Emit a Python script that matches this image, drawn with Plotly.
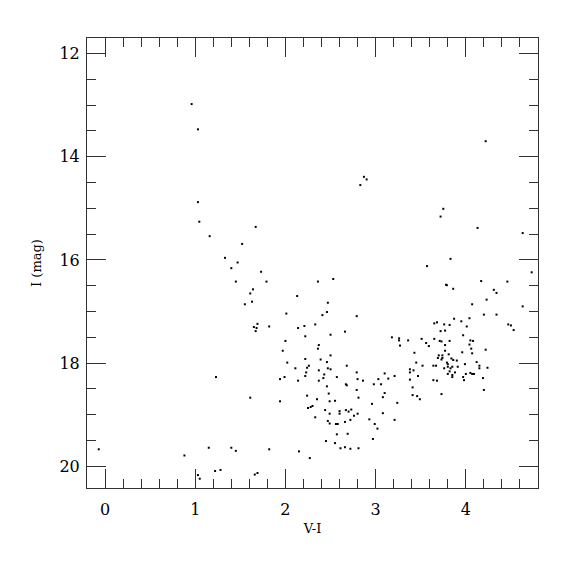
import plotly.graph_objects as go

# Colour index V-I and I magnitude
v_i = [
    0.96, 1.03, 1.03, 1.045, 1.16, 1.33, 1.47, 1.40, 1.73, 1.45, 1.79, 2.36, 2.53, 1.64, 1.61, 1.63, 1.55,
    2.13, 2.47, 2.46, 2.41, 2.01, 2.79, 1.69, 1.65, 1.68, 1.67, 1.82, 2.21, 2.14, 2.33, 2.22, 2.50, 2.66,
    2.00, 2.37, 2.36, 1.97, 2.50, 2.22, 2.39, 2.46, 2.02, 2.26, 2.24, 2.11, 2.47, 2.50, 2.68, 2.37, 2.23,
    2.43, 2.22, 1.99, 1.94, 2.57, 2.79, 3.10, 2.42, 2.14, 2.37, 2.80, 2.86, 3.03, 3.14, 2.67, 2.68, 2.98,
    3.06, 2.46, 2.79, 3.10, 2.48, 2.24, 2.81, 3.08, 1.61, 2.35, 1.94, 2.49, 2.55, 2.96, 2.30, 2.28, 2.25,
    2.44, 2.67, 2.73, 2.60, 2.70, 2.49, 2.60, 2.80, 3.08, 2.76, 2.33, 2.93, 2.72, 2.47, 2.66, 2.99, 2.49,
    2.56, 2.58, 3.02, 2.57, 2.69, 2.97, 2.45, 2.55, 2.61, 2.66, 2.72, 2.81, 1.40, 1.45, 1.82, 2.15, 2.27,
    1.66, 1.69, -0.07, 0.88, 1.15, 1.03, 1.05, 1.22, 1.28, 3.21, 1.23,
    4.22, 3.75, 3.72, 4.13, 4.63, 3.83, 3.57, 4.73, 3.78, 3.79, 3.86, 4.17, 4.46, 4.31, 4.34, 4.23,
    4.07, 4.63, 4.20, 4.34, 3.87, 3.95, 4.04, 3.65, 3.68, 3.76, 3.82, 4.01, 4.47, 4.50, 4.53, 3.72, 3.77,
    3.97, 3.18, 3.26, 3.26, 3.36, 3.51, 3.65, 3.27, 3.56, 3.59, 3.71, 3.73, 3.82, 3.77, 4.05, 4.08, 4.04,
    4.06, 4.22, 3.77, 3.96, 4.07, 3.43, 3.81, 3.70, 3.74, 3.69, 3.74, 3.73, 3.84, 3.86, 3.90, 3.79, 4.12,
    3.45, 3.80, 3.99, 4.15, 3.52, 3.64, 3.67, 3.80, 3.85, 3.91, 4.15, 4.24, 3.76, 3.83, 3.38, 3.42, 3.38,
    3.82, 3.88, 4.00, 4.05, 4.07, 4.09, 3.80, 3.85, 3.85, 3.47, 3.21, 3.97, 3.98, 3.38, 3.64, 3.68, 4.19,
    3.41, 4.20, 3.73, 3.41, 3.46, 3.49, 3.24,
    2.87, 2.90, 2.83, 1.67, 1.52,
]
i_mag = [
    12.98, 13.47, 14.88, 15.26, 15.54, 15.96, 16.05, 16.16, 16.23, 16.42, 16.42, 16.42, 16.37, 16.57, 16.65, 16.81, 16.86,
    16.70, 16.83, 17.01, 17.07, 17.04, 17.09, 17.24, 17.30, 17.32, 17.38, 17.29, 17.28, 17.32, 17.25, 17.48, 17.45, 17.39,
    17.57, 17.65, 17.72, 17.76, 17.85, 17.92, 17.93, 17.98, 17.99, 18.05, 18.09, 18.10, 18.10, 18.12, 18.05, 18.14, 18.18,
    18.22, 18.25, 18.27, 18.31, 18.27, 18.18, 18.20, 18.29, 18.34, 18.34, 18.31, 18.34, 18.31, 18.30, 18.41, 18.43, 18.41,
    18.41, 18.45, 18.52, 18.58, 18.59, 18.63, 18.67, 18.66, 18.67, 18.70, 18.74, 18.74, 18.73, 18.79, 18.83, 18.85, 18.87,
    18.91, 18.91, 18.90, 18.93, 18.94, 18.98, 18.98, 18.98, 18.97, 19.02, 19.05, 19.09, 19.10, 19.12, 19.14, 19.18, 19.17,
    19.18, 19.18, 19.27, 19.38, 19.37, 19.47, 19.51, 19.55, 19.65, 19.63, 19.66, 19.65, 19.64, 19.70, 19.67, 19.71, 19.84,
    20.16, 20.13, 19.67, 19.79, 19.64, 20.17, 20.24, 20.09, 20.07, 19.10, 18.27,
    13.70, 15.01, 15.16, 15.38, 15.48, 15.98, 16.12, 16.24, 16.48, 16.49, 16.56, 16.41, 16.42, 16.58, 16.64, 16.77,
    16.86, 16.90, 17.06, 17.06, 17.14, 17.19, 17.13, 17.23, 17.21, 17.25, 17.26, 17.29, 17.25, 17.27, 17.36, 17.38, 17.37,
    17.46, 17.50, 17.52, 17.56, 17.56, 17.53, 17.53, 17.66, 17.61, 17.67, 17.57, 17.58, 17.57, 17.65, 17.56, 17.57, 17.64,
    17.72, 17.74, 17.76, 17.79, 17.81, 17.80, 17.83, 17.85, 17.85, 17.90, 17.90, 17.93, 17.91, 17.94, 17.95, 17.99, 17.98,
    17.99, 18.02, 18.02, 18.05, 18.05, 18.05, 18.05, 18.07, 18.07, 18.07, 18.10, 18.09, 18.10, 18.10, 18.12, 18.14, 18.18,
    18.16, 18.18, 18.21, 18.19, 18.21, 18.21, 18.21, 18.23, 18.27, 18.25, 18.25, 18.27, 18.33, 18.32, 18.33, 18.34, 18.29,
    18.47, 18.52, 18.60, 18.62, 18.64, 18.70, 18.77,
    14.39, 14.44, 14.55, 15.36, 15.69,
]

x_range = [-0.2, 4.8]
y_range = [20.42, 11.7]

font_family = "DejaVu Serif"
axis_color = "#333333"

fig = go.Figure(
    go.Scatter(
        x=v_i, y=i_mag, mode="markers",
        marker=dict(symbol="square", size=2, color="black", line=dict(width=0)),
        hoverinfo="skip",
    )
)

common = dict(
    showgrid=False, zeroline=False, showline=True, linecolor=axis_color, linewidth=1,
    mirror="allticks", ticks="inside", ticklen=19, tickwidth=1, tickcolor=axis_color,
    tickfont=dict(family=font_family, size=16, color="black"),
)

fig.update_xaxes(
    range=x_range, dtick=1, tick0=0, ticklabelstandoff=7,
    minor=dict(ticks="inside", ticklen=9, dtick=0.2, tick0=0, tickcolor=axis_color, showgrid=False),
    title=dict(text="V-I", font=dict(family=font_family, size=13, color="black"), standoff=5),
    **common,
)
fig.update_yaxes(
    range=y_range, dtick=2, tick0=0, ticklabelstandoff=3,
    minor=dict(ticks="inside", ticklen=9, dtick=0.5, tick0=0, tickcolor=axis_color, showgrid=False),
    title=dict(text="I (mag)", font=dict(family=font_family, size=13, color="black"), standoff=14),
    **common,
)

fig.update_layout(
    width=575, height=575,
    margin=dict(l=79, r=45, t=30, b=95),
    plot_bgcolor="white", paper_bgcolor="white",
    showlegend=False,
)

fig.write_html("out.html")
